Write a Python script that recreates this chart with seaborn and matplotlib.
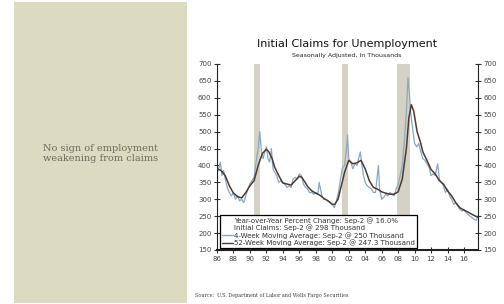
import pandas as pd
import seaborn as sns
import matplotlib.pyplot as plt
from matplotlib.lines import Line2D

# 4-week moving average (thousands)
ma4_years = [1986.0, 1986.25, 1986.4, 1986.6, 1986.8, 1987.0, 1987.25, 1987.5, 1987.75,
             1988.0, 1988.25, 1988.5, 1988.75, 1989.0, 1989.25, 1989.5, 1989.75,
             1990.0, 1990.25, 1990.5, 1990.75, 1991.0, 1991.2, 1991.4, 1991.6, 1991.8,
             1992.0, 1992.2, 1992.4, 1992.6, 1992.8, 1993.0, 1993.25, 1993.5, 1993.75,
             1994.0, 1994.25, 1994.5, 1994.75, 1995.0, 1995.25, 1995.5, 1995.75,
             1996.0, 1996.25, 1996.5, 1996.75, 1997.0, 1997.25, 1997.5, 1997.75,
             1998.0, 1998.25, 1998.4, 1998.75, 1999.0, 1999.25, 1999.5, 1999.75,
             2000.0, 2000.25, 2000.5, 2000.75, 2001.0, 2001.25, 2001.5, 2001.75, 2001.85,
             2002.0, 2002.25, 2002.5, 2002.75, 2003.0, 2003.25, 2003.4, 2003.6, 2003.8,
             2004.0, 2004.25, 2004.5, 2004.75, 2005.0, 2005.25, 2005.6, 2005.75,
             2006.0, 2006.25, 2006.5, 2006.75, 2007.0, 2007.25, 2007.5, 2007.75,
             2008.0, 2008.25, 2008.5, 2008.75, 2009.0, 2009.2, 2009.35, 2009.5, 2009.75,
             2010.0, 2010.25, 2010.5, 2010.75, 2011.0, 2011.25, 2011.5, 2011.75,
             2012.0, 2012.25, 2012.5, 2012.8, 2013.0, 2013.25, 2013.5, 2013.75,
             2014.0, 2014.25, 2014.5, 2014.75, 2015.0, 2015.25, 2015.5, 2015.75,
             2016.0, 2016.25, 2016.5, 2016.75, 2017.0, 2017.25, 2017.5, 2017.67]
ma4_values = [375, 395, 410, 370, 385, 360, 335, 320, 310,
              320, 300, 310, 295, 300, 290, 310, 330,
              345, 355, 365, 410, 450, 500, 440, 420, 440,
              455, 420, 410, 450, 390, 380, 370, 350, 355,
              350, 345, 335, 340, 335, 360, 365, 360,
              375, 370, 345, 335, 330, 320, 320, 315,
              320, 315, 350, 310, 300, 300, 295, 290,
              285, 275, 295, 320, 360, 395, 400, 455, 490,
              420, 410, 390, 405, 400, 425, 440, 400, 370,
              350, 340, 335, 330, 320, 320, 400, 330,
              300, 305, 315, 310, 320, 315, 310, 330,
              345, 370, 400, 470, 560, 660, 620, 560, 510,
              465, 455, 465, 440, 420, 415, 405, 395,
              370, 375, 370, 405, 360, 350, 340, 320,
              330, 310, 300, 285, 290, 280, 270, 265,
              270, 260, 255, 250, 245, 240, 238, 250]

# 52-week moving average (thousands)
ma52_years = [1986.0, 1986.5, 1987.0, 1987.5, 1988.0, 1988.5, 1989.0, 1989.5,
              1990.0, 1990.5, 1991.0, 1991.5, 1992.0, 1992.3, 1992.7, 1993.0, 1993.5,
              1994.0, 1994.5, 1995.0, 1995.5, 1996.0, 1996.3, 1996.7, 1997.0, 1997.5,
              1998.0, 1998.5, 1999.0, 1999.5, 2000.0, 2000.3, 2000.7, 2001.0, 2001.5,
              2002.0, 2002.5, 2003.0, 2003.5, 2004.0, 2004.5, 2005.0, 2005.5,
              2006.0, 2006.5, 2007.0, 2007.5, 2008.0, 2008.5, 2009.0, 2009.3, 2009.6,
              2009.9, 2010.3, 2010.7, 2011.0, 2011.5, 2012.0, 2012.5, 2013.0, 2013.5,
              2014.0, 2014.5, 2015.0, 2015.5, 2016.0, 2016.5, 2017.0, 2017.67]
ma52_values = [390, 385, 370, 340, 318, 308, 304, 320,
               340, 355, 400, 435, 448, 440, 420, 395, 370,
               348, 345, 342, 355, 368, 365, 350, 338, 325,
               318, 312, 302, 295, 285, 285, 300, 330, 380,
               415, 405, 408, 415, 390, 355, 335, 330,
               322, 318, 315, 315, 322, 360, 450, 540, 580,
               560, 500, 470, 440, 415, 388, 375, 355, 345,
               325, 310, 290, 275, 268, 262, 255, 247]

recessions = [(1990.5, 1991.2), (2001.2, 2001.9), (2007.9, 2009.5)]
year_ticks = list(range(1986, 2017, 2))
year_labels = [f"{y % 100:02d}" for y in year_ticks]

legend_labels = ["Year-over-Year Percent Change: Sep-2 @ 16.0%",
                 "Initial Claims: Sep-2 @ 298 Thousand",
                 "4-Week Moving Average: Sep-2 @ 250 Thousand",
                 "52-Week Moving Average: Sep-2 @ 247.3 Thousand"]

df4 = pd.DataFrame({"year": ma4_years, "claims": ma4_values})
df52 = pd.DataFrame({"year": ma52_years, "claims": ma52_values})

sns.set_theme(style="white")
plt.rcParams["font.family"] = ["DejaVu Sans"]

blue = "#8ba7bf"
brown = "#4b3b31"

fig = plt.figure(figsize=(5.04, 3.04), dpi=100)

# left beige panel
panel = fig.add_axes([14 / 504, 1 / 304, 173 / 504, 301 / 304])
panel.set_facecolor("#dbdbc1")
panel.set_xticks([])
panel.set_yticks([])
for s in panel.spines.values():
    s.set_visible(False)
panel.text(0.5, 0.497, "No sign of employment\nweakening from claims", ha="center", va="center",
           fontsize=7, color="#6b6a5e", family="DejaVu Serif", linespacing=1.2)

ax = fig.add_axes([217 / 504, 1 - 250 / 304, 261 / 504, 186 / 304])
for a, b in recessions:
    ax.axvspan(a, b, color="#d5d2c5", lw=0, zorder=0)

sns.lineplot(data=df4, x="year", y="claims", ax=ax, color=blue, lw=0.9, zorder=2)
sns.lineplot(data=df52, x="year", y="claims", ax=ax, color=brown, lw=1.1, zorder=3)

ax.set_xlim(1986, 2017.7)
ax.set_ylim(150, 700)
ax.set_xticks(year_ticks)
ax.set_xticklabels(year_labels)
ax.set_yticks(range(150, 701, 50))
ax.set_xlabel("")
ax.set_ylabel("")
ax.tick_params(axis="both", labelsize=5, colors="#333333", direction="inout", length=4, width=0.8,
               pad=2, labelcolor="#444444")
ax.tick_params(axis="y", right=True, labelright=True, left=True)
ax.tick_params(axis="x", bottom=True)
ax.spines["top"].set_visible(False)
ax.spines["bottom"].set_linewidth(1.5)
for side in ["left", "right", "bottom"]:
    ax.spines[side].set_color("#222222")
ax.spines["left"].set_linewidth(0.8)
ax.spines["right"].set_linewidth(0.8)

handles = [Line2D([], [], color="none"), Line2D([], [], color="none"),
           Line2D([], [], color=blue, lw=1), Line2D([], [], color=brown, lw=1)]
leg = ax.legend(handles, legend_labels, loc="lower left", bbox_to_anchor=(0.012, 0.012),
                fontsize=5, frameon=True, fancybox=False, handlelength=1.6, handletextpad=0.2,
                borderpad=0.25, labelspacing=0.1, borderaxespad=0)
leg.get_frame().set_edgecolor("black")
leg.get_frame().set_linewidth(0.9)
leg.get_frame().set_alpha(1)
for t in leg.get_texts():
    t.set_color("#333333")

fig.text(347 / 504, 1 - 44 / 304, "Initial Claims for Unemployment", ha="center", va="center",
         fontsize=8, color="#111111")
fig.text(347 / 504, 1 - 56 / 304, "Seasonally Adjusted, In Thousands", ha="center", va="center",
         fontsize=4.5, color="#222222")
fig.text(195 / 504, 1 - 295 / 304, "Source:  U.S. Department of Labor and Wells Fargo Securities",
         ha="left", va="center", fontsize=3.5, color="#444444", family="DejaVu Serif")

plt.savefig("out.png", dpi=100)
